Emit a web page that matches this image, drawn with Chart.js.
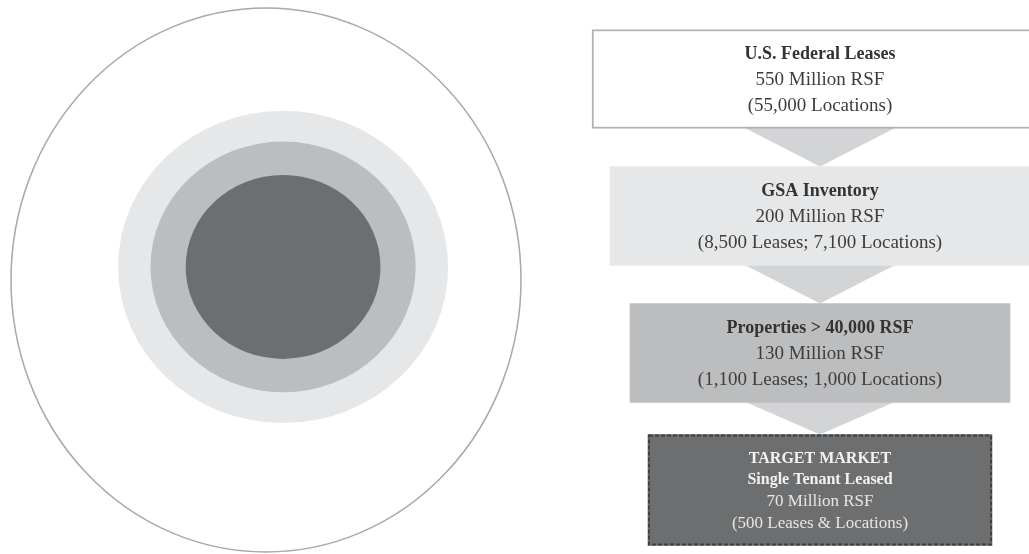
<!DOCTYPE html>
<html>
<head>
<meta charset="utf-8">
<script src="https://cdn.jsdelivr.net/npm/chart.js@4"></script>
<style>
  html, body { margin: 0; padding: 0; background: #ffffff; }
  body { width: 1029px; height: 554px; position: relative; overflow: hidden; }
  #rings { position: absolute; left: 0; top: 0; }
  #funnel { position: absolute; left: 560px; top: 0; }
</style>
</head>
<body>
<canvas id="rings" width="535" height="554"></canvas>
<canvas id="funnel" width="469" height="554"></canvas>
<script>
// stages of the market, outer to inner
const stages = ["U.S. Federal Leases", "GSA Inventory", "Properties > 40,000 RSF", "TARGET MARKET"];
const subtitles = ["", "", "", "Single Tenant Leased"];
const rsfMillions = [550, 200, 130, 70];
const details = ["(55,000 Locations)", "(8,500 Leases; 7,100 Locations)", "(1,100 Leases; 1,000 Locations)", "(500 Leases & Locations)"];

// rings (in units of the outer ring)
const ringX = [0, 0.067, 0.067, 0.067];
const ringY = [0, 0.048, 0.048, 0.048];
const ringRx = [1, 0.647, 0.52, 0.382];
const ringRy = [1, 0.574, 0.461, 0.338];

// funnel box half widths
const boxHalf = [228, 210, 190, 172];

const fills = ["#ffffff", "#e6e7e8", "#bcbdbf", "#6d6e70"];
const serif = "'Liberation Serif', 'Times New Roman', serif";

// ---------- left: nested rings ----------
const ringPlugin = {
    id: "ringPlugin",
    beforeDatasetsDraw(chart) {
        const ctx = chart.ctx;
        const xs = chart.scales.x, ys = chart.scales.y;
        ringX.forEach((cx, i) => {
            const px = xs.getPixelForValue(cx);
            const py = ys.getPixelForValue(ringY[i]);
            const rx = Math.abs(xs.getPixelForValue(cx + ringRx[i]) - px);
            const ry = Math.abs(ys.getPixelForValue(ringY[i] + ringRy[i]) - py);
            ctx.save();
            ctx.beginPath();
            ctx.ellipse(px, py, rx, ry, 0, 0, Math.PI * 2);
            ctx.fillStyle = fills[i];
            ctx.fill();
            if (i === 0) {
                ctx.lineWidth = 1.5;
                ctx.strokeStyle = "#a7a9ac";
                ctx.stroke();
            }
            ctx.restore();
        });
    }
};

new Chart(document.getElementById("rings"), {
    type: "scatter",
    data: {
        datasets: stages.map((s, i) => ({
            label: s,
            data: [{ x: ringX[i], y: ringY[i] }],
            pointRadius: 0
        }))
    },
    options: {
        responsive: false,
        animation: false,
        layout: { padding: { left: 11, top: 8, right: 14, bottom: 2 } },
        scales: {
            x: { type: "linear", min: -1, max: 1, display: false },
            y: { type: "linear", min: -1, max: 1, display: false }
        },
        plugins: { legend: { display: false }, tooltip: { enabled: false } }
    },
    plugins: [ringPlugin]
});

// ---------- right: funnel ----------
function boxEl(chart, i) {
    const meta = chart.getDatasetMeta(i < 3 ? 0 : 1);
    return meta.data[i];
}

const funnelPlugin = {
    id: "funnelPlugin",
    beforeDatasetsDraw(chart) {
        const ctx = chart.ctx;
        for (let i = 0; i < 3; i++) {
            const a = boxEl(chart, i), b = boxEl(chart, i + 1);
            const cx = (a.x + a.base) / 2;
            const top = a.y + a.height / 2 - 2;
            const tip = b.y - b.height / 2;
            ctx.save();
            ctx.beginPath();
            ctx.moveTo(cx - 78, top);
            ctx.lineTo(cx + 78, top);
            ctx.lineTo(cx, tip);
            ctx.closePath();
            ctx.fillStyle = "#d3d4d6";
            ctx.fill();
            ctx.restore();
        }
    },
    afterDatasetsDraw(chart) {
        const ctx = chart.ctx;
        // dashed outline of the target box
        const t = boxEl(chart, 3);
        ctx.save();
        ctx.setLineDash([4, 2]);
        ctx.lineWidth = 2;
        ctx.strokeStyle = "#3f3f40";
        ctx.strokeRect(Math.min(t.x, t.base) + 1, t.y - t.height / 2 + 1, Math.abs(t.x - t.base) - 2, t.height - 2);
        ctx.restore();

        ctx.save();
        ctx.textAlign = "center";
        ctx.textBaseline = "middle";
        stages.forEach((s, i) => {
            const el = boxEl(chart, i);
            const cx = (el.x + el.base) / 2;
            const cy = el.y;
            if (i < 3) {
                ctx.fillStyle = "#333333";
                ctx.font = "bold 18px " + serif;
                ctx.fillText(s, cx, cy - 25);
                ctx.fillStyle = "#3d3d3d";
                ctx.font = "19px " + serif;
                ctx.fillText(rsfMillions[i] + " Million RSF", cx, cy + 1);
                ctx.fillText(details[i], cx, cy + 27);
            } else {
                ctx.fillStyle = "#f2f2f2";
                ctx.font = "bold 16px " + serif;
                ctx.fillText(s, cx, cy - 31);
                ctx.fillText(subtitles[i], cx, cy - 10);
                ctx.fillStyle = "#e6e6e6";
                ctx.font = "17px " + serif;
                ctx.fillText(rsfMillions[i] + " Million RSF", cx, cy + 12);
                ctx.fillText(details[i], cx, cy + 34);
            }
        });
        ctx.restore();
    }
};

const spans = boxHalf.map(h => [-h, h]);

new Chart(document.getElementById("funnel"), {
    type: "bar",
    data: {
        labels: stages,
        datasets: [
            {
                data: [spans[0], spans[1], spans[2], null],
                backgroundColor: fills.slice(0, 3),
                borderColor: ["#b1b2b4", "rgba(0,0,0,0)", "rgba(0,0,0,0)"],
                borderWidth: [2, 0, 0],
                borderSkipped: false,
                barThickness: 99,
                grouped: false,
                clip: false
            },
            {
                data: [null, null, null, spans[3]],
                backgroundColor: fills[3],
                borderWidth: 0,
                borderSkipped: false,
                barThickness: 111,
                grouped: false,
                clip: false
            }
        ]
    },
    options: {
        indexAxis: "y",
        responsive: false,
        animation: false,
        layout: { padding: { left: 0, right: 0, top: 79, bottom: 64 } },
        scales: {
            x: { type: "linear", min: -260, max: 209, display: false },
            y: { type: "category", offset: false, display: false }
        },
        plugins: { legend: { display: false }, tooltip: { enabled: false } }
    },
    plugins: [funnelPlugin]
});
</script>
</body>
</html>
